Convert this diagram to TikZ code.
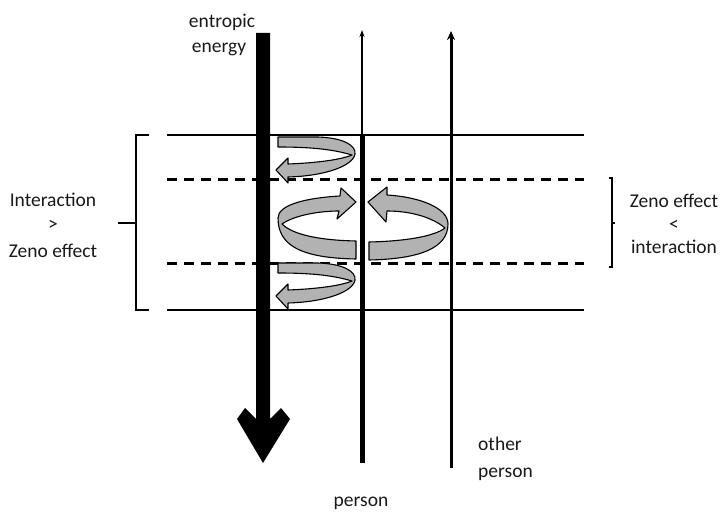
\documentclass[tikz,border=0pt]{standalone}
\usepackage{fontspec}
\setmainfont{Carlito}
\usetikzlibrary{arrows.meta}
\begin{document}
\begin{tikzpicture}[x=1pt,y=-1pt,
  lbl/.style={font=\fontsize{19.5}{24}\selectfont, inner sep=0pt, text=black!90},
  hline/.style={line width=2.6pt},
  dline/.style={line width=3pt, dash pattern=on 10pt off 7pt},
  brk/.style={line width=2.4pt},
  ribbon/.style={fill=black!30, draw=black, line width=1.1pt, line join=round}]
\useasboundingbox (0,0) rectangle (721,513);
\fill[white] (0,0) rectangle (721,513);
% level lines
\coordinate (s1l) at (167,135); \coordinate (s1r) at (584,135);
\coordinate (d1l) at (167,180); \coordinate (d1r) at (584,180);
\coordinate (d2l) at (167,264); \coordinate (d2r) at (584,264);
\coordinate (s2l) at (167,310); \coordinate (s2r) at (584,310);
\draw[hline] (s1l) -- (s1r);
\draw[hline] (s2l) -- (s2r);
\draw[dline] (d1l) -- (d1r);
\draw[dline] (d2l) -- (d2r);
% person lines
\coordinate (pb) at (362,463); \coordinate (pt) at (362,30); \coordinate (pm) at (362,135);
\draw[line width=1.3pt, -{Stealth[length=7pt,width=5pt]}] (pb) -- (pt);
\draw[line width=5pt] (pm) -- (pb);
\coordinate (ob) at (451,468); \coordinate (ot) at (451,31);
\draw[line width=3pt, -{Stealth[length=9pt,width=8pt]}] (ob) -- (ot);
% entropic energy arrow
\fill[black] (256,33) -- (270,33) -- (270,419) -- (281,408) -- (290,419) -- (263,463) -- (237,419) -- (245,408) -- (256,419) -- cycle;
% brackets
\draw[brk] (149,135) -- (136,135) -- (136,310) -- (149,310);
\draw[brk] (118,223) -- (136,223);
\draw[brk] (609,178) -- (612,178) -- (612,267) -- (609,267);
\draw[line width=1.8pt] (612,223) -- (615,223);
% spirals
\path[ribbon] (278,137) -- (318,137) .. controls (345,138) and (356,146) .. (355,154) .. controls (353,166) and (325,176) .. (288,177) -- (288,183) -- (276,170) -- (288,158) -- (288,164) .. controls (315,163) and (340,160) .. (352,155) .. controls (335,150) and (315,147) .. (278,147) -- cycle;
\begin{scope}[shift={(0,126)}]
\path[ribbon] (278,137) -- (318,137) .. controls (345,138) and (356,146) .. (355,154) .. controls (353,166) and (325,176) .. (288,177) -- (288,183) -- (276,170) -- (288,158) -- (288,164) .. controls (315,163) and (340,160) .. (352,155) .. controls (335,150) and (315,147) .. (278,147) -- cycle;
\end{scope}
\path[ribbon] (356,202) -- (341,188) -- (340,196) .. controls (305,198) and (278,205) .. (278,218) .. controls (278,245) and (300,258) .. (356,259) -- (356,241) .. controls (310,240) and (290,232) .. (282,224) .. controls (295,215) and (320,211) .. (339,211) -- (337,219) -- cycle;
\path[ribbon] (368,202) -- (387,187) -- (387,195) .. controls (420,197) and (448,208) .. (448,224) .. controls (448,248) and (420,259) .. (369,260) -- (369,242) .. controls (412,241) and (436,235) .. (445,228) .. controls (432,217) and (410,211) .. (387,211) -- (386,222) -- cycle;
% labels
\node[lbl, anchor=base] (ent1) at (222,28) {entropic};
\node[lbl, anchor=base] (ent2) at (219,53) {energy};
\node[lbl, anchor=base] (l1) at (53,207) {Interaction};
\node[lbl, anchor=base] (l2) at (53,231) {>};
\node[lbl, anchor=base] (l3) at (53,258) {Zeno effect};
\node[lbl, anchor=base] (r1) at (674,208) {Zeno effect};
\node[lbl, anchor=base] (r2) at (674,231) {<};
\node[lbl, anchor=base] (r3) at (674,254) {interaction};
\node[lbl, anchor=base west] (o1) at (478,450) {other};
\node[lbl, anchor=base west] (o2) at (478,477) {person};
\node[lbl, anchor=base] (p1) at (361,506) {person};
\end{tikzpicture}
\end{document}
